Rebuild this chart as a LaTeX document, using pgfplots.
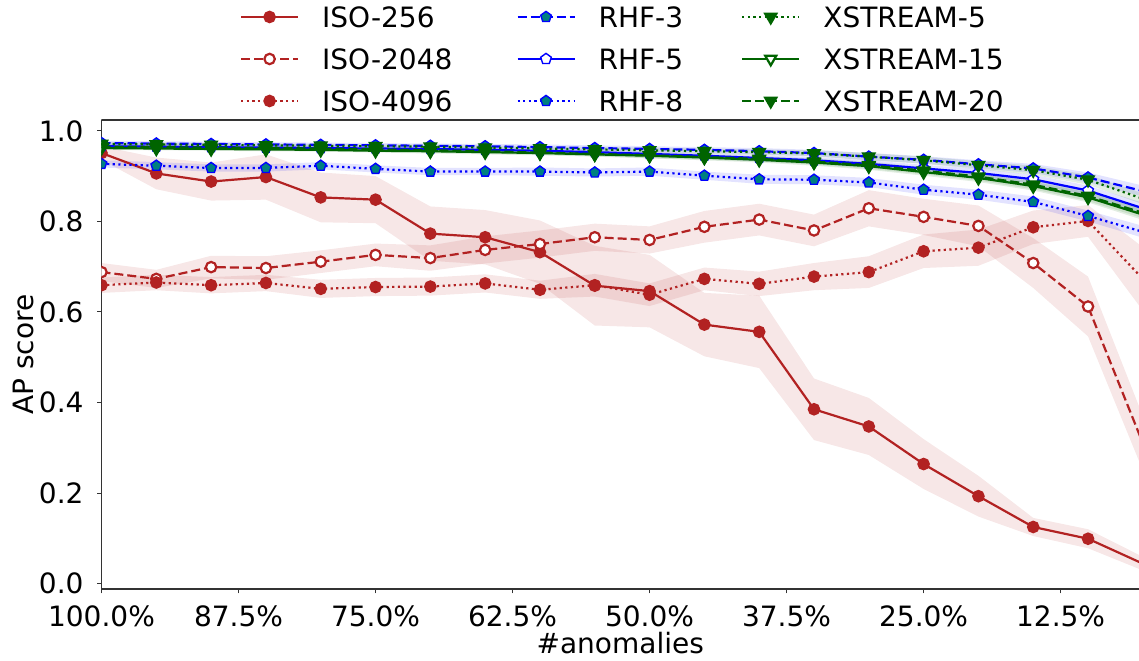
\documentclass[border=0pt]{standalone}
\usepackage{fontspec}
\setmainfont{DejaVu Sans}
\usepackage{pgfplots}
\pgfplotsset{compat=1.18}
\usepackage{pgfplotstable}
\usepgfplotslibrary{fillbetween}

\definecolor{iso}{HTML}{B22222}
\definecolor{rhf}{HTML}{0000FF}
\definecolor{rhffill}{HTML}{008080}
\definecolor{xs}{HTML}{006400}

% mean and standard deviation of the AP score at each anomaly level
% (x = 0 is 100%, one step = 5%)
\pgfplotstableread{
x  m256  s256  m2048 s2048 m4096 s4096 r3    sr3   r5    sr5   r8    sr8   x5    sx5   x15   sx15  x20   sx20
0  0.951 0.015 0.688 0.020 0.659 0.017 0.973 0.005 0.966 0.005 0.927 0.008 0.971 0.004 0.962 0.004 0.965 0.004
1  0.906 0.035 0.673 0.020 0.665 0.017 0.972 0.005 0.965 0.005 0.923 0.008 0.970 0.004 0.961 0.004 0.964 0.004
2  0.888 0.042 0.699 0.025 0.659 0.018 0.971 0.005 0.964 0.005 0.918 0.008 0.969 0.004 0.960 0.004 0.963 0.004
3  0.898 0.050 0.697 0.026 0.664 0.018 0.970 0.005 0.963 0.005 0.918 0.008 0.968 0.004 0.959 0.004 0.962 0.004
4  0.853 0.055 0.711 0.025 0.651 0.020 0.969 0.005 0.962 0.005 0.923 0.008 0.967 0.004 0.958 0.004 0.961 0.004
5  0.848 0.052 0.726 0.025 0.655 0.020 0.968 0.005 0.961 0.005 0.916 0.008 0.966 0.004 0.956 0.004 0.959 0.004
6  0.773 0.060 0.719 0.028 0.656 0.020 0.967 0.005 0.960 0.005 0.910 0.008 0.965 0.005 0.955 0.005 0.957 0.005
7  0.765 0.060 0.737 0.030 0.663 0.020 0.966 0.005 0.958 0.005 0.910 0.008 0.963 0.005 0.953 0.005 0.955 0.005
8  0.732 0.070 0.750 0.030 0.649 0.020 0.964 0.006 0.956 0.006 0.910 0.009 0.961 0.005 0.951 0.005 0.952 0.005
9  0.658 0.088 0.765 0.030 0.659 0.025 0.962 0.006 0.953 0.006 0.908 0.009 0.959 0.005 0.948 0.005 0.949 0.005
10 0.646 0.080 0.759 0.030 0.638 0.025 0.960 0.006 0.949 0.006 0.910 0.009 0.957 0.006 0.945 0.006 0.946 0.006
11 0.572 0.070 0.788 0.035 0.673 0.025 0.958 0.006 0.945 0.006 0.901 0.009 0.955 0.006 0.941 0.006 0.942 0.006
12 0.556 0.080 0.804 0.035 0.662 0.027 0.955 0.007 0.940 0.007 0.893 0.010 0.953 0.006 0.936 0.006 0.938 0.006
13 0.385 0.068 0.780 0.035 0.678 0.030 0.951 0.007 0.935 0.007 0.892 0.010 0.950 0.007 0.930 0.007 0.932 0.007
14 0.347 0.063 0.829 0.040 0.688 0.035 0.943 0.008 0.927 0.008 0.886 0.010 0.943 0.008 0.922 0.008 0.924 0.008
15 0.264 0.055 0.810 0.040 0.734 0.037 0.936 0.008 0.917 0.008 0.870 0.011 0.935 0.008 0.909 0.008 0.912 0.008
16 0.193 0.045 0.790 0.045 0.742 0.040 0.926 0.009 0.907 0.009 0.859 0.011 0.924 0.009 0.896 0.009 0.899 0.009
17 0.125 0.020 0.708 0.055 0.787 0.037 0.917 0.010 0.893 0.010 0.843 0.012 0.913 0.010 0.878 0.010 0.881 0.010
18 0.099 0.021 0.612 0.066 0.801 0.035 0.897 0.011 0.868 0.011 0.812 0.012 0.892 0.011 0.853 0.011 0.856 0.011
19 0.044 0.015 0.310 0.060 0.673 0.070 0.867 0.012 0.829 0.012 0.777 0.013 0.850 0.012 0.815 0.012 0.819 0.012
}\results

% shaded band mean +- std for one column pair
\newcommand{\band}[3]{%
  \addplot[name path=#1up, draw=none, forget plot] table[x=x, y expr=\thisrow{#1}+\thisrow{#2}] {\results};
  \addplot[name path=#1lo, draw=none, forget plot] table[x=x, y expr=\thisrow{#1}-\thisrow{#2}] {\results};
  \addplot[fill=#3, fill opacity=0.11, draw=none, forget plot] fill between[of=#1up and #1lo];
}

\begin{document}
\begin{tikzpicture}
\begin{axis}[
  scale only axis,
  width=518.75pt, height=234.5pt,
  xmin=0, xmax=18.93, ymin=-0.012, ymax=1.024,
  axis lines*=left,
  axis line style={black!80, line width=0.6pt},
  tick align=outside,
  major tick length=2.2pt,
  tick style={black!80, line width=0.5pt},
  clip marker paths=true,
  xtick={0,2.5,5,7.5,10,12.5,15,17.5},
  xticklabels={100.0\%,87.5\%,75.0\%,62.5\%,50.0\%,37.5\%,25.0\%,12.5\%},
  ytick={0,0.2,0.4,0.6,0.8,1},
  every tick label/.append style={font=\fontsize{14}{16}\selectfont},
  xticklabel style={anchor=base, inner sep=0pt, yshift=-16.35pt},
  yticklabel style={/pgf/number format/fixed, /pgf/number format/fixed zerofill,
    /pgf/number format/precision=1, /pgf/number format/assume math mode=true,
    anchor=east, inner sep=0pt, xshift=-6.6pt},
  xlabel={\#anomalies},
  ylabel={AP score},
  label style={font=\fontsize{14}{16}\selectfont},
  xlabel style={at={(axis description cs:0.5,-0.138)}, anchor=base, inner sep=0pt},
  ylabel style={at={(axis description cs:-0.0655,0.5)}, anchor=base, inner sep=0pt},
  legend columns=3,
  transpose legend,
  legend cell align=left,
  legend image code/.code={\draw[mark repeat=2, mark phase=2, #1]
    plot coordinates {(0pt,0pt) (14.25pt,0pt) (28.5pt,0pt)};},
  legend style={at={(axis description cs:0.1335,1.2414)}, anchor=north west,
    draw=none, fill=none, inner sep=0pt, outer sep=0pt,
    font=\fontsize{14}{16}\selectfont,
    nodes={inner sep=0pt, text height=10.2pt, text depth=0pt},
    row sep=10.8pt,
    /tikz/every odd column/.style={column sep=11.5pt},
    /tikz/column 2/.style={column sep=32pt},
    /tikz/column 4/.style={column sep=29pt}},
]
\coordinate (bbsw) at (rel axis cs:0,0);
\coordinate (bbne) at (rel axis cs:1,1);
\draw[black!80, line width=0.6pt] (rel axis cs:0,1) -- (rel axis cs:1,1);

% Isolation forest variants
\band{m256}{s256}{iso}
\addplot[iso, line width=1.1pt, mark=*, mark size=2.6pt, mark options={solid, fill=iso, draw=iso}]
  table[x=x, y=m256] {\results};
\addlegendentry{ISO-256}
\band{m2048}{s2048}{iso}
\addplot[iso, line width=1.1pt, dash pattern=on 4.5pt off 2pt, mark=*, mark size=2.6pt,
  mark options={solid, fill=white, draw=iso}]
  table[x=x, y=m2048] {\results};
\addlegendentry{ISO-2048}
\band{m4096}{s4096}{iso}
\addplot[iso, line width=1.1pt, dash pattern=on 1.1pt off 1.7pt, mark=*, mark size=2.6pt,
  mark options={solid, fill=iso, draw=iso}]
  table[x=x, y=m4096] {\results};
\addlegendentry{ISO-4096}

% RHF variants
\band{r3}{sr3}{rhf}
\addplot[rhf, line width=1.1pt, dash pattern=on 4.5pt off 2pt, mark=pentagon*, mark size=2.8pt,
  mark options={solid, fill=rhffill, draw=rhf, line width=0.7pt}]
  table[x=x, y=r3] {\results};
\addlegendentry{RHF-3}
\band{r5}{sr5}{rhf}
\addplot[rhf, line width=1.1pt, mark=pentagon*, mark size=2.8pt,
  mark options={solid, fill=white, draw=rhf, line width=0.7pt}]
  table[x=x, y=r5] {\results};
\addlegendentry{RHF-5}
\band{r8}{sr8}{rhf}
\addplot[rhf, line width=1.1pt, dash pattern=on 1.1pt off 1.7pt, mark=pentagon*, mark size=2.8pt,
  mark options={solid, fill=rhffill, draw=rhf, line width=0.7pt}]
  table[x=x, y=r8] {\results};
\addlegendentry{RHF-8}

% xStream variants
\band{x5}{sx5}{xs}
\addplot[xs, line width=1.1pt, dash pattern=on 1.1pt off 1.7pt, mark=triangle*, mark size=3.2pt,
  mark options={solid, rotate=180, fill=xs, draw=xs}]
  table[x=x, y=x5] {\results};
\addlegendentry{XSTREAM-5}
\band{x15}{sx15}{xs}
\addplot[xs, line width=1.1pt, mark=triangle*, mark size=3.2pt,
  mark options={solid, rotate=180, fill=white, draw=xs}]
  table[x=x, y=x15] {\results};
\addlegendentry{XSTREAM-15}
\band{x20}{sx20}{xs}
\addplot[xs, line width=1.1pt, dash pattern=on 4.5pt off 2pt, mark=triangle*, mark size=3.2pt,
  mark options={solid, rotate=180, fill=xs, draw=xs}]
  table[x=x, y=x20] {\results};
\addlegendentry{XSTREAM-20}
\end{axis}
\pgfresetboundingbox
\path[use as bounding box] ([shift={(-50.75pt,-36pt)}]bbsw) rectangle ([shift={(0pt,60pt)}]bbne);
\end{tikzpicture}
\end{document}
